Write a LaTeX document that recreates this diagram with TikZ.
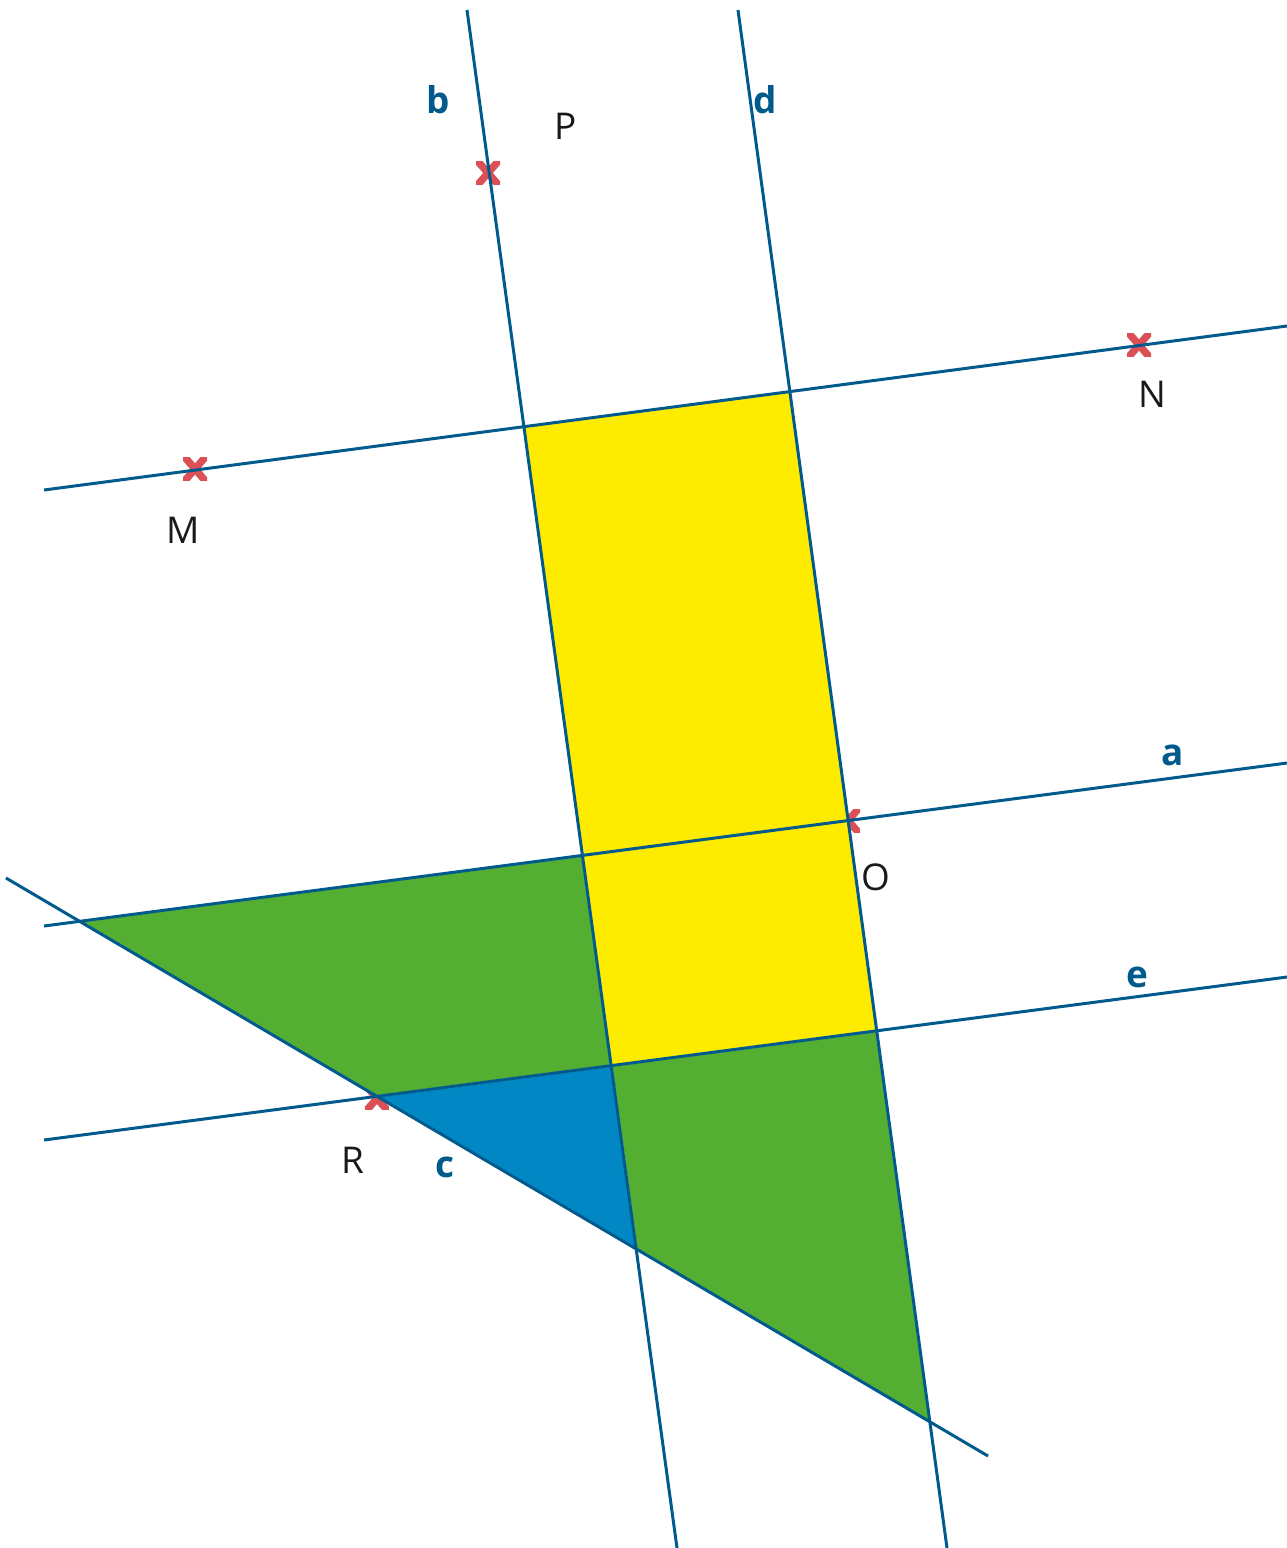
\documentclass[tikz,border=0pt]{standalone}
\usepackage{fontspec}
\setmainfont{Open Sans}
\usepackage{tikz}
\usetikzlibrary{calc}
\definecolor{LineBlue}{HTML}{005A8C}
\definecolor{CrossRed}{HTML}{DA5055}
\definecolor{PatchYellow}{HTML}{FDEB00}
\definecolor{PatchGreen}{HTML}{53AE32}
\definecolor{PatchBlue}{HTML}{0087C4}
\tikzset{
  gline/.style={draw=LineBlue,line width=0.85pt},
  patch/.style={draw=white,line width=0.6pt},
  crossmark/.style={draw=CrossRed,line width=2.1pt},
  redx/.pic={\begin{scope}
      \clip (-12,-11.5) rectangle (12,11.5);
      \draw[crossmark] (-13,-15) -- (13,15) (-13,15) -- (13,-15);
    \end{scope}},
  ptname/.style={text=black!90,font=\fontsize{10.5}{12}\selectfont,inner sep=0pt},
  linename/.style={text=LineBlue,font=\bfseries\fontsize{10.5}{12}\selectfont,inner sep=0pt}
}

\begin{document}
\begin{tikzpicture}[x=0.1mm,y=-0.1mm]
  \useasboundingbox (0,0) rectangle (1287,1548);
  % ends of the lines
  \coordinate (b1) at (467,10);   \coordinate (b2) at (677,1548);
  \coordinate (d1) at (738,10);   \coordinate (d2) at (947,1548);
  \coordinate (m1) at (44,490);   \coordinate (m2) at (1287,326);
  \coordinate (a1) at (44,926);   \coordinate (a2) at (1287,763);
  \coordinate (e1) at (44,1140);  \coordinate (e2) at (1287,977);
  \coordinate (c1) at (6,878);    \coordinate (c2) at (988,1456);
  % corners of the patches
  \coordinate (bm) at (intersection of b1--b2 and m1--m2);
  \coordinate (dm) at (intersection of d1--d2 and m1--m2);
  \coordinate (ba) at (intersection of b1--b2 and a1--a2);
  \coordinate (O)  at (intersection of d1--d2 and a1--a2);
  \coordinate (be) at (intersection of b1--b2 and e1--e2);
  \coordinate (de) at (intersection of d1--d2 and e1--e2);
  \coordinate (ac) at (intersection of a1--a2 and c1--c2);
  \coordinate (R)  at (intersection of c1--c2 and e1--e2);
  \coordinate (bc) at (intersection of b1--b2 and c1--c2);
  \coordinate (dc) at (intersection of d1--d2 and c1--c2);
  \coordinate (P) at (488,173);
  \coordinate (M) at (195,469);
  \coordinate (N) at (1139,345);
  % crosses
  \foreach \p in {P,M,N,O} \pic at (\p) {redx};
  \pic at ($(R)+(0,2)$) {redx};
  % patches
  \path[patch,fill=PatchYellow] (bm) -- (dm) -- (de) -- (be) -- cycle;
  \path[patch,fill=PatchGreen] (ac) -- (ba) -- (be) -- (R) -- cycle;
  \path[patch,fill=PatchGreen] (be) -- (de) -- (dc) -- (bc) -- cycle;
  \path[patch,fill=PatchBlue] (R) -- (be) -- (bc) -- cycle;
  % lines
  \draw[gline] (b1) -- (b2);
  \draw[gline] (d1) -- (d2);
  \draw[gline] (m1) -- (m2);
  \draw[gline] (a1) -- (a2);
  \draw[gline] (e1) -- (e2);
  \draw[gline] (c1) -- (c2);
  % names
  \node[linename] (lb) at (438,100) {b};
  \node[linename] (ld) at (765,100) {d};
  \node[linename] (la) at (1173,755) {a};
  \node[linename] (le) at (1137,977) {e};
  \node[linename] (lc) at (445,1167) {c};
  \node[ptname] (lP) at (566,126) {P};
  \node[ptname] (lM) at (183,530) {M};
  \node[ptname] (lN) at (1152,394) {N};
  \node[ptname] (lO) at (876,877) {O};
  \node[ptname] (lR) at (353,1160) {R};
\end{tikzpicture}
\end{document}
